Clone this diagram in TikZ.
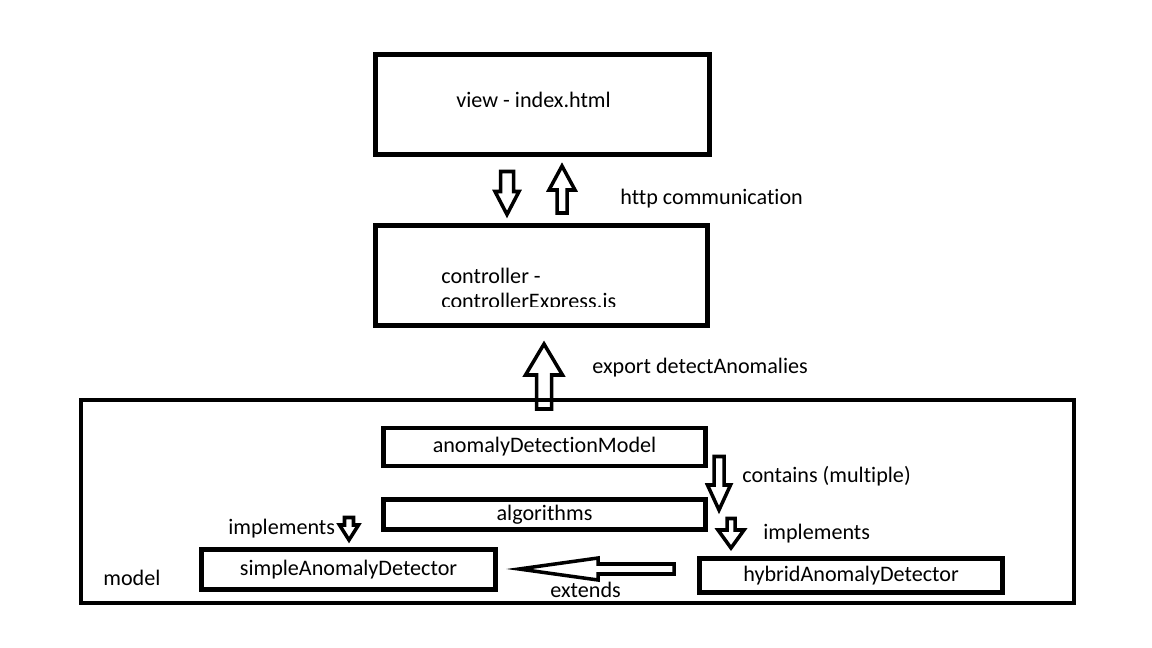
\documentclass[tikz,border=0pt]{standalone}
\usepackage{fontspec}
\setmainfont{Carlito}[Ligatures=NoCommon]
\usetikzlibrary{calc}
\newcommand{\px}{0.02cm}

\begin{document}
\begin{tikzpicture}[x=0.02cm, y=-0.02cm,
  font=\fontsize{12.6}{14.2}\selectfont,
  thickbox/.style={draw, line width=2.6pt, inner sep=0pt},
  thinbox/.style={draw, line width=2.4pt, inner sep=0pt},
  caption/.style={anchor=base west, inner sep=0pt},
  arrowline/.style={line width=2pt, line join=miter},
  pics/blockarrow/.style n args={4}{code={
    \draw[arrowline] (0,-#2) -- (#1-#4,-#2) -- (#1-#4,-#3) -- (#1,0)
      -- (#1-#4,#3) -- (#1-#4,#2) -- (0,#2) -- cycle;
  }}]
\useasboundingbox (0,0) rectangle (1152,648);

% Layers
\node[thickbox, minimum width=334*\px, minimum height=100*\px] (view) at (542.5,104.5) {};
\node[caption] (viewtext) at (456,107.5) {view - index.html};

\node[thickbox, minimum width=332*\px, minimum height=100*\px] (controller) at (541.5,275.5) {};
\begin{scope}
  \clip (376,227) rectangle (707,307);
  \node[caption] (controllertext) at (441,284) {controller -};
  \node[caption] (controllerfile) at (441,309) {controllerExpress.js};
\end{scope}

\node[thickbox, minimum width=993*\px, minimum height=203*\px] (model) at (577.5,501.5) {};
\node[caption] (modeltext) at (103,585.5) {model};

% Inside the model
\node[thinbox, minimum width=322*\px, minimum height=38*\px] (detectionmodel) at (544.5,447) {anomalyDetectionModel};
\node[thinbox, minimum width=322*\px, minimum height=30*\px] (algorithms) at (544.5,514.5) {algorithms};
\node[thinbox, minimum width=294*\px, minimum height=40*\px] (simple) at (348.5,569.5) {simpleAnomalyDetector};
\node[thinbox, minimum width=303*\px, minimum height=34*\px] (hybrid) at (851,575.5) {hybridAnomalyDetector};

% Block arrows
\pic[rotate=-90] at (507,171.5) {blockarrow={43}{6.5}{12}{23}};
\pic[rotate=90] at (562,213) {blockarrow={47}{5}{13}{24}};
\node[caption] (httptext) at (620,204.5) {http communication};

\pic[rotate=90] at (544,409) {blockarrow={65}{7.5}{18.5}{31}};
\node[caption] (exporttext) at (592,373.5) {export detectAnomalies};

\pic[rotate=-90] at (719,456.5) {blockarrow={53.5}{5}{11.5}{25}};
\node[caption] (containstext) at (742,482.5) {contains (multiple)};

\pic[rotate=-90] at (731,518.5) {blockarrow={29.5}{4}{13}{18}};
\node[caption] (implementsright) at (763,539.5) {implements};

\pic[rotate=-90] at (349,517.5) {blockarrow={22.5}{4.5}{9.5}{15}};
\node[caption] (implementsleft) at (228,534.5) {implements};

\pic[rotate=180] at (674,569) {blockarrow={155}{5}{11}{79}};
\node[caption] (extendstext) at (550,597.5) {extends};
\end{tikzpicture}
\end{document}
